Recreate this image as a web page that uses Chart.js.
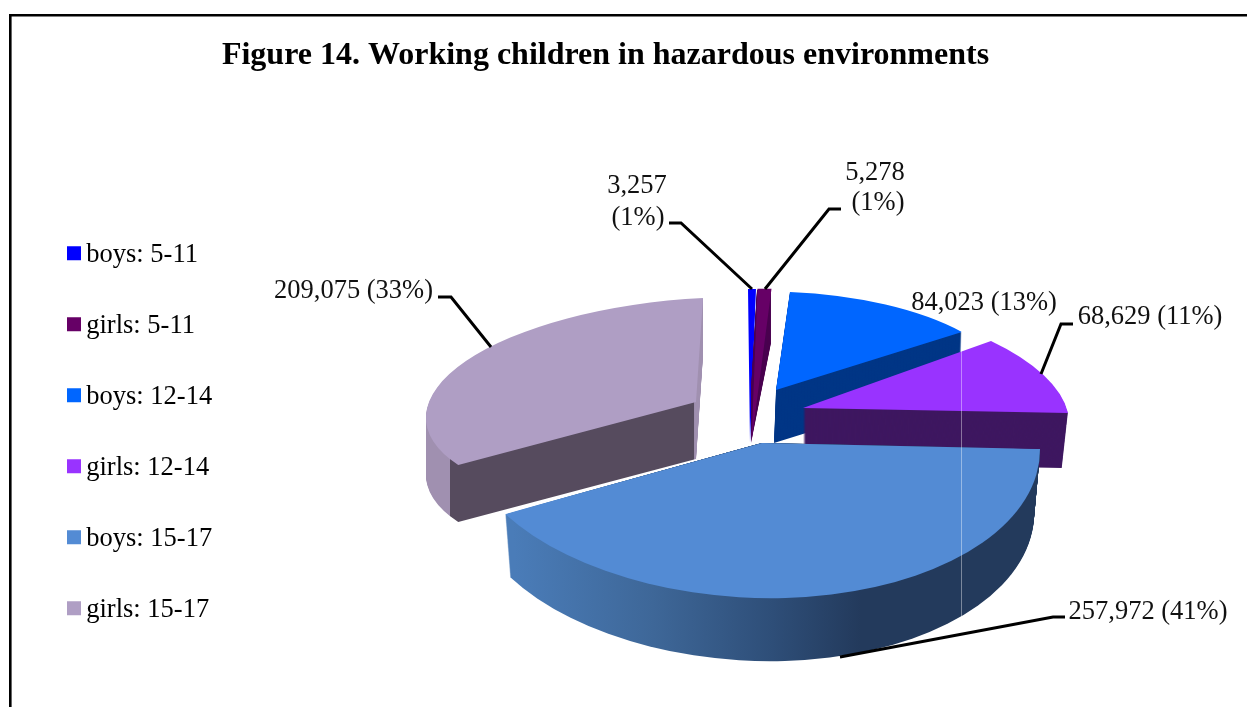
<!DOCTYPE html>
<html>
<head>
<meta charset="utf-8">
<style>html,body{margin:0;padding:0;background:#fff}canvas{display:block}</style>
<script src="https://cdn.jsdelivr.net/npm/chart.js@4"></script>
</head>
<body>
<canvas id="c" width="1247" height="707"></canvas>
<script>
const titleText = 'Figure 14. Working children in hazardous environments';
const categories = ['boys: 5-11','girls: 5-11','boys: 12-14','girls: 12-14','boys: 15-17','girls: 15-17'];
const workingChildren = [3257, 5278, 84023, 68629, 257972, 209075];
const sliceColors = ['#0000ff','#660066','#0066ff','#9933ff','#538bd4','#af9ec4'];

// 3D look: per-slice projection of the library's arcs
const drawOrder = [5,0,1,2,3,4];
const sliceProjection = [
  {tx:750,ty:443,a:245,b:0,c:2,d:154,depth:0},
  {tx:751.5,ty:442,a:265,b:-9.3,c:2.6,d:153,depth:54,lean:0,shrink:0,
   wallView:{tx:751,ty:389,a:265,b:-6.1,c:2.6,d:100},wall:'#4a0050'},
  {tx:776,ty:390,a:237.4,b:1.5,c:6.3,d:98.5,depth:53,lean:-2,shrink:0,wall:'#003686'},
  {tx:803,ty:408,a:263.7,b:0.3,c:37.8,d:111.9,depth:55,lean:0,shrink:0.023,wall:'#3e1760'},
  {tx:750,ty:438.1,a:289.7,b:4.2,c:13,d:160,depth:63,lean:0,shrink:0.02,
   clip:[[480,521],[762,443],[1247,453.5],[1247,707],[480,707]],
   wallStops:[[505,'#4a7cb8'],[640,'#3e6798'],[760,'#2e4e78'],[850,'#233a5c'],[1045,'#233a5c']]},
  {tx:696,ty:402,a:270,b:-13,c:-7,d:104,depth:57,lean:0,shrink:0,
   wallStops:[[400,'#a090b0'],[453,'#a090b0'],[453.5,'#564b5e'],[694,'#564b5e'],[694.5,'#a090b0'],[720,'#a090b0']]}
];

// annotation layout
const labelLines = [
  [[637,186,'v'],[638,218,'p']],
  [[875,173,'v'],[878,203,'p']],
  [[984,303,'vp']],
  [[1150,317,'vp']],
  [[1148,612,'vp']],
  [[353.5,291,'vp']]
];
const leaderPaths = [
  [[669,223],[681,223],[752,289]],
  [[841,209],[829,209],[765,289]],
  null,
  [[1073,324],[1061,324],[1041,374]],
  [[1065,617],[1053,617],[840,657]],
  [[438,297],[451,297],[491,347]]
];

const serif = '"Liberation Serif"';
const total = workingChildren.reduce((s,v)=>s+v,0);
const fmtV = v => v.toLocaleString('en-US');
const fmtP = v => '(' + Math.round(v/total*100) + '%)';

function square(color){
  const cv=document.createElement('canvas');cv.width=28;cv.height=28;
  const x=cv.getContext('2d');x.fillStyle=color;x.fillRect(9,5,14,14);return cv;
}
const legendSquares = sliceColors.map(square);

function drawLayer(ctx, arc, view, p, t, fill){
  const R = arc.outerRadius;
  const s = p.depth ? 1 - (p.shrink||0)*t/p.depth : 1;
  ctx.save();
  ctx.transform(view.a*s/R, view.b/R, view.c*s/R, view.d/R, view.tx+(p.lean||0)*t/(p.depth||1), view.ty+t);
  ctx.translate(-arc.x,-arc.y);
  const saved = arc.options;
  arc.options = Object.assign({}, saved, {backgroundColor:fill, borderWidth:0});
  arc.draw(ctx);
  arc.options = saved;
  ctx.restore();
}
function wallFill(ctx, arc, p){
  if(!p.wallStops) return p.wall;
  const R=arc.outerRadius, toLocal=x=>arc.x+(x-p.tx)/p.a*R;
  const st=p.wallStops, x0=st[0][0], x1=st[st.length-1][0];
  const g=ctx.createLinearGradient(toLocal(x0),0,toLocal(x1),0);
  st.forEach(([x,col])=>g.addColorStop((x-x0)/(x1-x0),col));
  return g;
}

const pie3d = {
  id:'pie3d',
  beforeDraw(chart){
    const c=chart.ctx;
    c.save();c.strokeStyle='#000';c.lineWidth=2.6;
    c.beginPath();c.moveTo(10.3,707);c.lineTo(10.3,15.3);c.lineTo(1247,15.3);c.stroke();
    c.restore();
  },
  afterLayout(chart){
    const l=chart.legend, w=l.width, h=l.height;
    l.left=71-l.options.labels.padding; l.right=l.left+w;
    l.top=242-l.options.labels.padding; l.bottom=l.top+h;
    const t=chart.titleBlock;
    t.left=-18; t.right=1229;
  },
  beforeDatasetsDraw(chart){
    const ctx=chart.ctx, arcs=chart.getDatasetMeta(0).data;
    drawOrder.forEach(i=>{
      const arc=arcs[i], p=sliceProjection[i];
      ctx.save();
      if(p.clip){
        ctx.beginPath();p.clip.forEach(([x,y],k)=>k?ctx.lineTo(x,y):ctx.moveTo(x,y));ctx.closePath();ctx.clip();
      }
      if(p.depth){
        const fill=wallFill(ctx,arc,p), view=p.wallView||p;
        for(let t=p.depth;t>=1;t--) drawLayer(ctx,arc,view,p,t,fill);
      }
      drawLayer(ctx,arc,p,p,0,sliceColors[i]);
      ctx.restore();
    });
    // thin light seam of the source picture
    ctx.save();ctx.strokeStyle='rgba(255,255,255,.4)';ctx.lineWidth=1;
    ctx.beginPath();ctx.moveTo(961.5,329);ctx.lineTo(961.5,618);ctx.stroke();ctx.restore();
    return false;
  },
  afterDraw(chart){
    const ctx=chart.ctx;
    ctx.save();
    ctx.strokeStyle='#000';ctx.lineWidth=3;ctx.lineJoin='miter';
    leaderPaths.forEach(path=>{
      if(!path) return;
      ctx.beginPath();path.forEach(([x,y],k)=>k?ctx.lineTo(x,y):ctx.moveTo(x,y));ctx.stroke();
    });
    ctx.fillStyle='#111';ctx.font='26.5px '+serif;ctx.textAlign='center';ctx.textBaseline='middle';
    labelLines.forEach((lines,i)=>{
      const v=workingChildren[i];
      lines.forEach(([x,y,kind])=>{
        const s=kind==='v'?fmtV(v):kind==='p'?fmtP(v):fmtV(v)+' '+fmtP(v);
        ctx.fillText(s,x,y);
      });
    });
    ctx.restore();
  }
};

new Chart(document.getElementById('c'),{
  type:'pie',
  data:{labels:categories,datasets:[{data:workingChildren,backgroundColor:sliceColors,borderWidth:0}]},
  plugins:[pie3d],
  options:{
    responsive:false,animation:false,
    layout:{padding:0},
    plugins:{
      tooltip:{enabled:false},
      title:{display:true,text:titleText,color:'#000',font:{family:serif,size:32,weight:'bold',lineHeight:1},padding:{top:40,bottom:10}},
      legend:{position:'left',align:'start',labels:{
        color:'#111',font:{family:serif,size:26.5,lineHeight:1},
        usePointStyle:true,pointStyleWidth:2,boxHeight:14,padding:44.5,
        generateLabels:chart=>chart.data.labels.map((text,i)=>({text,fillStyle:sliceColors[i],strokeStyle:sliceColors[i],lineWidth:0,pointStyle:legendSquares[i],hidden:false,index:i}))
      }}
    }
  }
});
</script>
</body>
</html>
